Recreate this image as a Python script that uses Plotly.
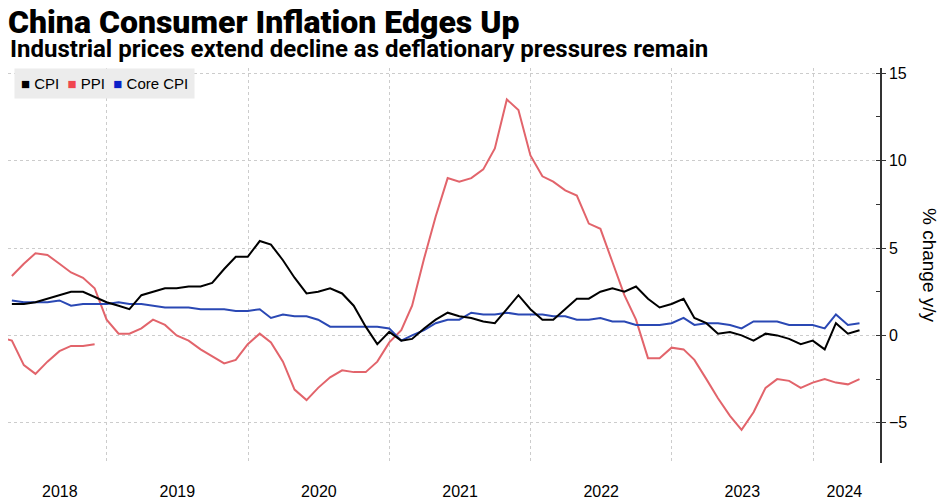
""" China CPI / PPI / core CPI chart """
import pandas as pd
import plotly.graph_objects as go

""" Data (monthly, y/y %, Apr 2018 - Apr 2024) """
months = pd.date_range("2018-04-30", periods=73, freq="ME")

cpi = [
    1.8, 1.8, 1.9, 2.1, 2.3, 2.5, 2.5, 2.2, 1.9,
    1.7, 1.5, 2.3, 2.5, 2.7, 2.7, 2.8, 2.8, 3.0, 3.8, 4.5, 4.5,
    5.4, 5.2, 4.3, 3.3, 2.4, 2.5, 2.7, 2.4, 1.7, 0.5, -0.5, 0.2,
    -0.3, -0.2, 0.4, 0.9, 1.3, 1.1, 1.0, 0.8, 0.7, 1.5, 2.3, 1.5,
    0.9, 0.9, 1.5, 2.1, 2.1, 2.5, 2.7, 2.5, 2.8, 2.1, 1.6, 1.8,
    2.1, 1.0, 0.7, 0.1, 0.2, 0.0, -0.3, 0.1, 0.0, -0.2, -0.5, -0.3,
    -0.8, 0.7, 0.1, 0.3,
]
ppi = [
    3.4, 4.1, 4.7, 4.6, 4.1, 3.6, 3.3, 2.7, 0.9,
    0.1, 0.1, 0.4, 0.9, 0.6, 0.0, -0.3, -0.8, -1.2, -1.6, -1.4, -0.5,
    0.1, -0.4, -1.5, -3.1, -3.7, -3.0, -2.4, -2.0, -2.1, -2.1, -1.5, -0.4,
    0.3, 1.7, 4.4, 6.8, 9.0, 8.8, 9.0, 9.5, 10.7, 13.5, 12.9, 10.3,
    9.1, 8.8, 8.3, 8.0, 6.4, 6.1, 4.2, 2.3, 0.9, -1.3, -1.3, -0.7,
    -0.8, -1.4, -2.5, -3.6, -4.6, -5.4, -4.4, -3.0, -2.5, -2.6, -3.0, -2.7,
    -2.5, -2.7, -2.8, -2.5,
]
core_cpi = [
    2.0, 1.9, 1.9, 1.9, 2.0, 1.7, 1.8, 1.8, 1.8,
    1.9, 1.8, 1.8, 1.7, 1.6, 1.6, 1.6, 1.5, 1.5, 1.5, 1.4, 1.4,
    1.5, 1.0, 1.2, 1.1, 1.1, 0.9, 0.5, 0.5, 0.5, 0.5, 0.5, 0.4,
    -0.3, 0.0, 0.3, 0.7, 0.9, 0.9, 1.3, 1.2, 1.2, 1.3, 1.2, 1.2,
    1.2, 1.1, 1.1, 0.9, 0.9, 1.0, 0.8, 0.8, 0.6, 0.6, 0.6, 0.7,
    1.0, 0.6, 0.7, 0.7, 0.6, 0.4, 0.8, 0.8, 0.8, 0.6, 0.6, 0.6,
    0.4, 1.2, 0.6, 0.7,
]

# stray red fragment visible at the far left of the source image
ghost_months = pd.date_range("2018-03-31", periods=9, freq="ME")
ghost_ppi = [-0.1, -0.3, -1.7, -2.2, -1.5, -0.9, -0.6, -0.6, -0.5]

year_starts = ["2019-01-01", "2020-01-01", "2021-01-01", "2022-01-01", "2023-01-01", "2024-01-01"]
year_label_pos = ["2018-09-01", "2019-07-02", "2020-07-02", "2021-07-02", "2022-07-02", "2023-07-02", "2024-03-22"]
year_labels = ["2018", "2019", "2020", "2021", "2022", "2023", "2024"]

""" Styling """
BLACK = "#000000"
RED = "#e2646b"
BLUE = "#2a48b4"
GRID = "#cccccc"
FONT = "Liberation Sans, Arial, sans-serif"
HEAVY = "Roboto, Liberation Sans, sans-serif"

# page body has an 8px margin, so the figure is 8px smaller each way
W, H = 939, 495
PLOT_W, PLOT_H = 872, 395
TOP = 60

fig = go.Figure()

fig.add_trace(go.Scatter(x=ghost_months, y=ghost_ppi, mode="lines",
                         line=dict(color=RED, width=2), showlegend=False, hoverinfo="skip"))
fig.add_trace(go.Scatter(x=months, y=ppi, mode="lines", name="PPI",
                         line=dict(color=RED, width=2), showlegend=False))
fig.add_trace(go.Scatter(x=months, y=core_cpi, mode="lines", name="Core CPI",
                         line=dict(color=BLUE, width=2), showlegend=False))
fig.add_trace(go.Scatter(x=months, y=cpi, mode="lines", name="CPI",
                         line=dict(color=BLACK, width=2), showlegend=False))

fig.update_layout(
    width=W,
    height=H,
    margin=dict(l=0, r=W - PLOT_W, t=TOP, b=H - TOP - PLOT_H, autoexpand=False),
    paper_bgcolor="white",
    plot_bgcolor="white",
    font=dict(family=FONT, size=15, color="#000000"),
    title=dict(
        text="China Consumer Inflation Edges Up",
        x=0, xanchor="left", xref="container",
        y=1 - 14 / H, yanchor="middle", yref="container",
        font=dict(family=HEAVY, size=32, color="#000000", weight=900),
    ),
    showlegend=False,
)

fig.add_annotation(
    text="Industrial prices extend decline as deflationary pressures remain",
    xref="paper", yref="paper", x=0, y=1 + (TOP - 41) / PLOT_H,
    xanchor="left", yanchor="middle", showarrow=False,
    font=dict(family=HEAVY, size=24, color="#000000", weight=700),
)

# legend box with square keys
legend_text = (
    '<span style="color:#000000">■</span>&nbsp;CPI&nbsp;&nbsp;'
    '<span style="color:#f0464f">■</span>&nbsp;PPI&nbsp;&nbsp;'
    '<span style="color:#0a1fc8">■</span>&nbsp;Core CPI'
)
fig.add_annotation(
    text=legend_text,
    xref="paper", yref="paper", x=6 / PLOT_W, y=1.0,
    xanchor="left", yanchor="top", showarrow=False,
    bgcolor="#ececec", borderpad=6,
    font=dict(family=FONT, size=15, color="#000000"),
)

fig.add_annotation(
    text="% change y/y",
    xref="paper", yref="paper", x=922 / PLOT_W, y=(TOP + PLOT_H - 257) / PLOT_H,
    xanchor="center", yanchor="middle", showarrow=False, textangle=90,
    font=dict(family=FONT, size=19, color="#000000"),
)

fig.update_xaxes(
    type="date",
    range=["2018-04-20", "2024-06-22"],
    tickvals=year_label_pos,
    ticktext=year_labels,
    ticks="",
    showgrid=False,
    showline=False,
    zeroline=False,
    ticklabelstandoff=17,
    tickfont=dict(family=FONT, size=16),
    minor=dict(tickvals=year_starts, showgrid=True, gridcolor=GRID,
               griddash="dot", gridwidth=1, ticks=""),
)

fig.update_yaxes(
    side="right",
    range=[-7.3, 15.3],
    tickvals=[-5, 0, 5, 10, 15],
    ticks="outside",
    ticklen=4,
    tickcolor="#333333",
    showline=True,
    linecolor="#333333",
    linewidth=1.5,
    showgrid=True,
    gridcolor=GRID,
    griddash="dot",
    gridwidth=1,
    zeroline=False,
    tickfont=dict(family=FONT, size=16),
    minor=dict(dtick=2.5, tick0=0, ticks="inside", ticklen=4, tickcolor="#333333", showgrid=False),
)

fig.write_html("out.html")
